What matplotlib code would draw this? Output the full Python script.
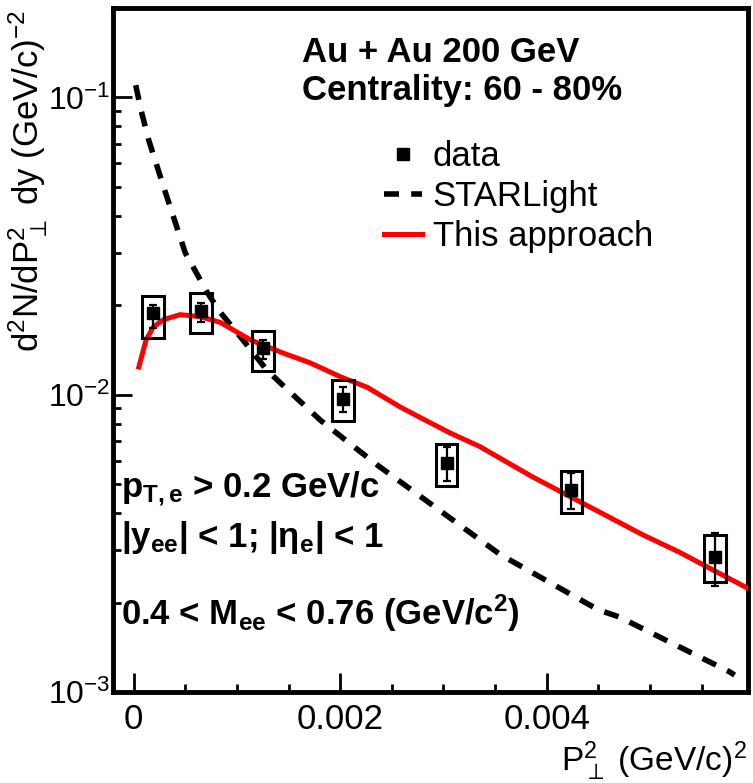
import matplotlib
matplotlib.use("Agg")
import matplotlib.pyplot as plt
from matplotlib.patches import Rectangle
from matplotlib.lines import Line2D
from matplotlib.ticker import FixedLocator, NullFormatter, LogLocator
import numpy as np

plt.rcParams['font.family'] = ['Liberation Sans', 'DejaVu Sans']
plt.rcParams['mathtext.fontset'] = 'custom'
plt.rcParams['mathtext.rm'] = 'Liberation Sans'
plt.rcParams['mathtext.bf'] = 'Liberation Sans:bold'
plt.rcParams['mathtext.it'] = 'Liberation Sans:italic'
plt.rcParams['mathtext.sf'] = 'Liberation Sans'
plt.rcParams['mathtext.default'] = 'regular'

# data points (STAR, 60-80%)
pt2 = np.array([0.00019, 0.00065, 0.00125, 0.00203, 0.00303, 0.00424, 0.00563])
yield_ = np.array([0.0188, 0.0192, 0.0144, 0.0097, 0.0059, 0.0048, 0.00285])
stat_lo = np.array([0.0168, 0.0176, 0.0132, 0.00877, 0.00513, 0.00413, 0.00227])
stat_hi = np.array([0.0201, 0.0204, 0.0153, 0.01064, 0.00668, 0.00546, 0.00343])
sys_lo = np.array([0.01556, 0.01618, 0.01205, 0.00818, 0.00494, 0.00401, 0.00234])
sys_hi = np.array([0.0215, 0.0220, 0.0164, 0.01123, 0.00684, 0.00555, 0.00338])
box_hw = 0.000105

# STARLight curve
sl_x = [0.00002, 0.00007, 0.000145, 0.00029, 0.0005, 0.000715, 0.00084, 0.001,
        0.00129, 0.00149, 0.00181, 0.00213, 0.00236, 0.00265, 0.00355, 0.0045,
        0.0047, 0.00577, 0.00582]
sl_y = [0.110, 0.091, 0.072, 0.050, 0.030, 0.022, 0.0189, 0.0162,
        0.0121, 0.0104, 0.0082, 0.0067, 0.0058, 0.0049, 0.0029, 0.00189,
        0.00179, 0.00117, 0.00114]

# this approach
th_x = [0.00005, 0.00012, 0.00019, 0.00029, 0.00045, 0.00065, 0.00084, 0.00113,
        0.00145, 0.00171, 0.0020, 0.00226, 0.00258, 0.00277, 0.00306, 0.00335,
        0.00386, 0.00493, 0.00528, 0.00594]
th_y = [0.0124, 0.0153, 0.0169, 0.0179, 0.0186, 0.0183, 0.0175, 0.0153,
        0.0138, 0.0128, 0.0115, 0.0106, 0.0091, 0.0084, 0.00745, 0.0067,
        0.0053, 0.00338, 0.00296, 0.00224]

fig = plt.figure(figsize=(7.53, 7.83), dpi=100)
ax = fig.add_axes([0.1501, 0.1162, 0.8433, 0.8736])

dash = (0, (2.7, 2.2))
ax.plot(sl_x, sl_y, color='black', lw=4.0, ls=dash, zorder=2)
ax.plot(th_x, th_y, color='#ff0000', lw=3.6, zorder=3)

for x, lo, hi in zip(pt2, sys_lo, sys_hi):
    ax.add_patch(Rectangle((x - box_hw, lo), 2 * box_hw, hi - lo,
                           fill=False, ec='black', lw=2.2, zorder=4))
ax.errorbar(pt2, yield_, yerr=[yield_ - stat_lo, stat_hi - yield_],
            fmt='s', color='black', ms=9, lw=1.6, capsize=3, capthick=1.6,
            zorder=5)

ax.set_yscale('log')
ax.set_xlim(-0.0002, 0.00595)
ax.set_ylim(1e-3, 0.2)

ax.xaxis.set_major_locator(FixedLocator([0, 0.002, 0.004]))
ax.xaxis.set_minor_locator(FixedLocator(np.arange(0, 0.006, 0.0005)))
ax.set_xticklabels(['0', '0.002', '0.004'])
ax.yaxis.set_major_locator(FixedLocator([1e-3, 1e-2, 1e-1]))
ax.yaxis.set_minor_locator(LogLocator(base=10, subs=np.arange(2, 10)))
ax.yaxis.set_minor_formatter(NullFormatter())
ax.set_yticklabels([r'$10^{-3}$', r'$10^{-2}$', r'$10^{-1}$'])

ax.tick_params(which='both', direction='in', top=False, right=False,
               width=2.0, labelsize=25)
ax.tick_params(which='major', length=14)
ax.tick_params(which='minor', length=6)
ax.tick_params(axis='x', pad=8)
ax.tick_params(axis='y', pad=2, labelsize=23)
for s in ax.spines.values():
    s.set_linewidth(3.5)

ax.set_xlabel(r'P$_{\perp}^{2}$ (GeV/c)$^{2}$', fontsize=24, loc='right')
ax.xaxis.label.set_va('baseline')
ax.xaxis.set_label_coords(0.998, -0.116)
ax.set_ylabel(r'd$^{2}$N/dP$_{\perp}^{2}$ dy (GeV/c)$^{-2}$', fontsize=25,
              loc='top')
ax.yaxis.set_label_coords(-0.1, 0.997)

ax.text(0.2976, 0.921, 'Au + Au 200 GeV', transform=ax.transAxes,
        fontsize=25, fontweight='bold', va='baseline')
ax.text(0.2976, 0.8655, 'Centrality: 60 - 80%', transform=ax.transAxes,
        fontsize=25, fontweight='bold', va='baseline')
ax.text(0.012, 0.286, r'p$_{\mathbf{T,e}}$ > 0.2 GeV/c', transform=ax.transAxes,
        fontsize=25, fontweight='bold', va='baseline')
ax.text(0.012, 0.212, r'|y$_{\mathbf{ee}}$| < 1; |η$_{\mathbf{e}}$| < 1',
        transform=ax.transAxes, fontsize=25, fontweight='bold', va='baseline')
ax.text(0.012, 0.098, r'0.4 < M$_{\mathbf{ee}}$ < 0.76 (GeV/c$^{\mathbf{2}}$)',
        transform=ax.transAxes, fontsize=25, fontweight='bold', va='baseline')

handles = [
    Line2D([], [], ls='none', marker='s', color='black', ms=9),
    Line2D([], [], color='black', lw=4.0, ls=dash),
    Line2D([], [], color='#ff0000', lw=3.6),
]
ax.legend(handles, ['data', 'STARLight', 'This approach'], loc='upper left',
          bbox_to_anchor=(0.4268, 0.807), frameon=False, fontsize=25,
          borderpad=0, borderaxespad=0, handlelength=1.1, handletextpad=0.3,
          labelspacing=0.2)

fig.savefig('out.png', dpi=100)
